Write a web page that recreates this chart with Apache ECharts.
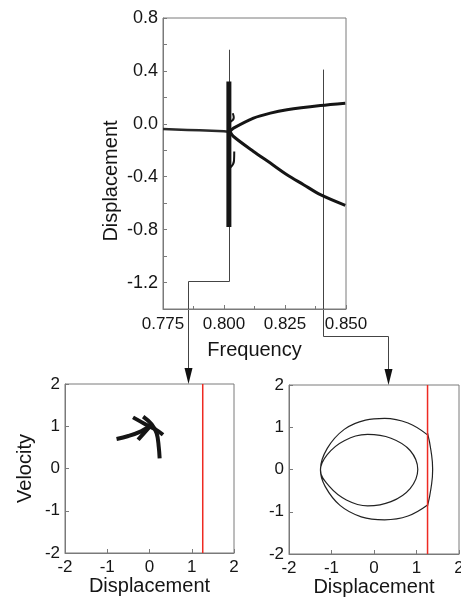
<!DOCTYPE html>
<html>
<head>
<meta charset="utf-8">
<script src="https://cdn.jsdelivr.net/npm/echarts@6/dist/echarts.min.js"></script>
<style>
html, body { margin: 0; padding: 0; background: #fff; }
#chart { width: 461px; height: 607px; }
</style>
</head>
<body>
<div id="chart"></div>
<script>
// --- bifurcation diagram (top) ---
const flatFreq = [0.775, 0.780, 0.785, 0.790, 0.795, 0.800, 0.8018]
const flatDisp = [-0.040, -0.043, -0.046, -0.049, -0.052, -0.056, -0.060]

const upperFreq = [0.8025, 0.8039, 0.8121, 0.8190, 0.8258, 0.8395, 0.8497]
const upperDisp = [-0.055, -0.033, 0.043, 0.081, 0.106, 0.138, 0.156]

const lowerFreq = [0.8025, 0.8039, 0.8121, 0.8190, 0.8258, 0.8326, 0.8395, 0.8497]
const lowerDisp = [-0.060, -0.096, -0.209, -0.297, -0.385, -0.460, -0.536, -0.617]

// chaotic band at the bifurcation point
const bandFreq = [0.802, 0.802]
const bandDisp = [0.32, -0.78]
const hookFreq = [[0.8026, 0.8040, 0.8036], [0.8026, 0.8041, 0.8042]]
const hookDisp = [[0.015, 0.045, 0.08], [-0.33, -0.28, -0.21]]

const freqTicks = [0.775, 0.800, 0.825, 0.850]
const dispTicks = [-1.2, -0.8, -0.4, 0.0, 0.4, 0.8]

// frequencies picked for the phase portraits
const pickFreq = [0.802, 0.8407]
const pickTop = [0.56, 0.41]

// --- phase portrait at 0.802 (bottom left) ---
const chaosX = [
  [-0.78, -0.50, -0.20, 0.00],
  [-0.39, -0.10, 0.15, 0.32],
  [-0.27, -0.12, 0.05],
  [-0.15, 0.05, 0.17, 0.22, 0.24]
]
const chaosY = [
  [0.70, 0.77, 0.88, 1.00],
  [1.21, 1.05, 0.92, 0.80],
  [0.68, 0.85, 1.03],
  [1.23, 1.05, 0.83, 0.50, 0.24]
]

// --- phase portrait at 0.8407, period-2 orbit (bottom right) ---
const orbitX = [1.26, 0.80, 0.25, -0.30, -0.80, -1.15, -1.26, -1.10, -0.70, -0.15, 0.40, 0.85, 1.03,
  0.85, 0.40, -0.15, -0.65, -1.05, -1.26, -1.10, -0.70, -0.20, 0.25, 0.80, 1.26]
const orbitY = [-0.84, -1.10, -1.19, -1.12, -0.85, -0.40, -0.02, 0.35, 0.68, 0.83, 0.74, 0.45, 0.00,
  -0.45, -0.76, -0.86, -0.72, -0.40, 0.00, 0.50, 0.95, 1.17, 1.21, 1.10, 0.82]
const impactX = [1.26, 1.34, 1.38, 1.34, 1.26]
const impactY = [0.86, 0.45, 0.00, -0.45, -0.86]

// wall position
const wallX = 1.26
const wallY = [-2, 2]
const phaseTicks = [-2, -1, 0, 1, 2]

const zip = (xs, ys) => xs.map((x, i) => [x, ys[i]])

const font = '"Liberation Sans", Arial, sans-serif'
const frame = '#7a7a7a'
const ink = '#151515'
const wallRed = '#ee2a22'

const chart = echarts.init(document.getElementById('chart'))

const baseAxis = (extra) => Object.assign({
  type: 'value',
  axisLine: { onZero: false, lineStyle: { color: frame } },
  axisTick: { inside: true, length: 4, lineStyle: { color: frame } },
  splitLine: { show: false },
  nameLocation: 'middle',
  nameTextStyle: { color: ink, fontSize: 20, fontFamily: font }
}, extra)

const lineSeries = (data, xi, width, color, smooth) => ({
  type: 'line',
  data: data,
  xAxisIndex: xi,
  yAxisIndex: xi,
  showSymbol: false,
  symbol: 'none',
  smooth: smooth || false,
  lineStyle: { color: color || ink, width: width },
  silent: true,
  animation: false
})

const series = [
  lineSeries(zip(flatFreq, flatDisp), 0, 2.5, '#2a2a2a'),
  lineSeries(zip(upperFreq, upperDisp), 0, 3, ink, 0.3),
  lineSeries(zip(lowerFreq, lowerDisp), 0, 3, ink, 0.3),
  lineSeries(zip(bandFreq, bandDisp), 0, 5, ink),
  lineSeries(zip(hookFreq[0], hookDisp[0]), 0, 2, ink, true),
  lineSeries(zip(hookFreq[1], hookDisp[1]), 0, 2, ink, true)
]
chaosX.forEach((xs, i) => series.push(lineSeries(zip(xs, chaosY[i]), 1, 4, ink, 0.4)))
series.push(lineSeries(zip(orbitX, orbitY), 2, 1.2, '#222', 0.4))
series.push(lineSeries(zip(impactX, impactY), 2, 1.2, '#222', 0.5))
// the wall, drawn last so it sits on top
;[1, 2].forEach(gi => {
  const s = lineSeries(wallY.map(y => [wallX, y]), gi, 1.5, wallRed)
  s.z = 5
  series.push(s)
})

const gridBox = { show: true, borderColor: frame, borderWidth: 1, containLabel: false, outerBoundsMode: 'none' }
const tickFont = { color: ink, fontSize: 17, fontFamily: font }

const option = {
  animation: false,
  backgroundColor: '#fff',
  grid: [
    Object.assign({ left: 163, top: 18, width: 183, height: 291 }, gridBox),
    Object.assign({ left: 65, top: 384, width: 169, height: 169 }, gridBox),
    Object.assign({ left: 289, top: 385, width: 170, height: 169 }, gridBox)
  ],
  xAxis: [
    baseAxis({
      gridIndex: 0, min: 0.775, max: 0.850, interval: 0.025,
      name: 'Frequency', nameGap: 31,
      minorTick: { show: true, splitNumber: 2, length: 3, lineStyle: { color: frame } },
      axisLabel: Object.assign({ margin: 7, customValues: freqTicks, formatter: v => v.toFixed(3) }, tickFont)
    }),
    baseAxis({
      gridIndex: 1, min: -2, max: 2, interval: 1,
      name: 'Displacement', nameGap: 20,
      axisLabel: Object.assign({ margin: 6, customValues: phaseTicks }, tickFont)
    }),
    baseAxis({
      gridIndex: 2, min: -2, max: 2, interval: 1,
      name: 'Displacement', nameGap: 23,
      axisLabel: Object.assign({ margin: 6, customValues: phaseTicks }, tickFont)
    })
  ],
  yAxis: [
    baseAxis({
      gridIndex: 0, min: -1.4, max: 0.8, interval: 0.2,
      name: 'Displacement', nameGap: 42,
      nameTextStyle: { color: ink, fontSize: 20, fontFamily: font, padding: [0, 35, 0, 0] },
      axisLabel: Object.assign({ margin: 5, customValues: dispTicks, formatter: v => v.toFixed(1) },
        tickFont, { fontSize: 18 })
    }),
    baseAxis({
      gridIndex: 1, min: -2, max: 2, interval: 1,
      name: 'Velocity', nameGap: 30,
      axisLabel: Object.assign({ margin: 5, customValues: phaseTicks }, tickFont)
    }),
    baseAxis({
      gridIndex: 2, min: -2, max: 2, interval: 1,
      axisLabel: Object.assign({ margin: 5, customValues: phaseTicks }, tickFont)
    })
  ],
  series: series
}

chart.setOption(option)

// connectors from the picked frequencies down to the phase portraits
const arrowTargetX = [0.91, 0.33]
const connectorY = [-1.185, -1.604]

const drawConnectors = () => {
  const els = []
  pickFreq.forEach((f, i) => {
    const top = chart.convertToPixel({ gridIndex: 0 }, [f, pickTop[i]])
    const bend = chart.convertToPixel({ gridIndex: 0 }, [f, connectorY[i]])
    const tip = chart.convertToPixel({ gridIndex: i + 1 }, [arrowTargetX[i], 2])
    const x0 = Math.round(top[0]) + 0.5
    const y1 = Math.round(bend[1]) + 0.5
    const x2 = Math.round(tip[0]) + 0.5
    const ty = Math.round(tip[1])
    els.push({
      type: 'polyline',
      silent: true,
      shape: { points: [[x0, top[1]], [x0, y1], [x2, y1], [x2, ty - 12]] },
      style: { stroke: '#444', lineWidth: 1, fill: null }
    })
    els.push({
      type: 'polygon',
      silent: true,
      shape: { points: [[x2, ty], [x2 - 4, ty - 16], [x2 + 4, ty - 16]] },
      style: { fill: '#111' }
    })
  })
  chart.setOption({ graphic: els })
}
drawConnectors()
</script>
</body>
</html>
